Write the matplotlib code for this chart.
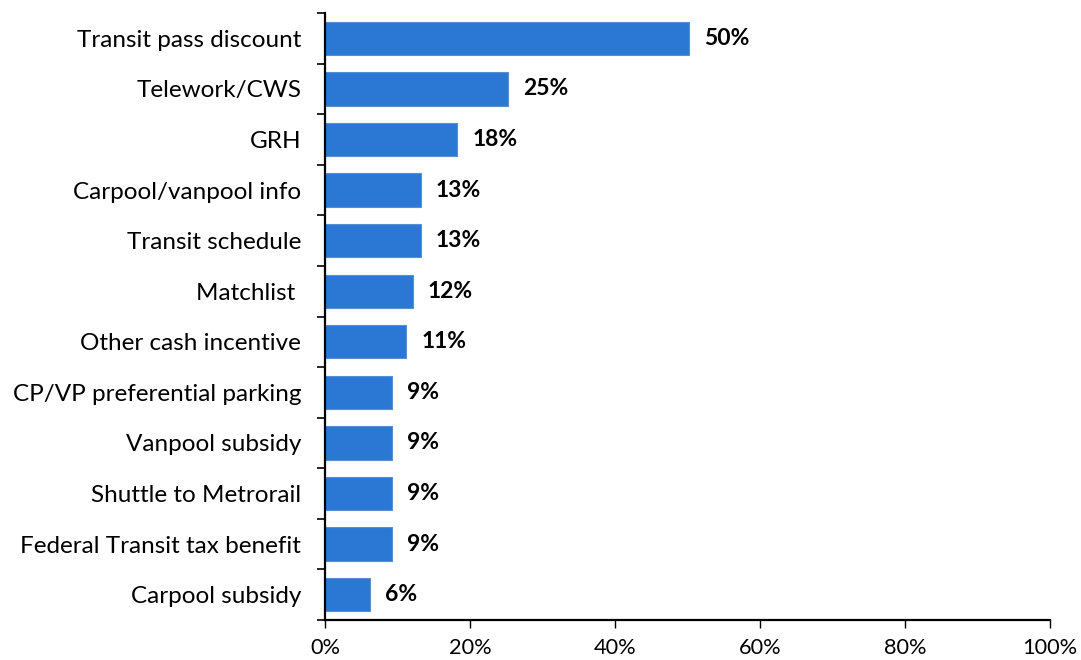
import numpy as np
import matplotlib.pyplot as plt
import matplotlib.ticker as mticker

plt.rcParams['font.family'] = ['Lato', 'DejaVu Sans']

# dados
categories = ['Transit pass discount', 'Telework/CWS', 'GRH', 'Carpool/vanpool info',
              'Transit schedule', 'Matchlist ', 'Other cash incentive',
              'CP/VP preferential parking', 'Vanpool subsidy', 'Shuttle to Metrorail',
              'Federal Transit tax benefit', 'Carpool subsidy']
values = [50.2, 25.2, 18.2, 13.2, 13.2, 12.1, 11.2, 9.2, 9.2, 9.2, 9.2, 6.2]
labels = ['50%', '25%', '18%', '13%', '13%', '12%', '11%', '9%', '9%', '9%', '9%', '6%']
xticks = [0, 20, 40, 60, 80, 100]

fig = plt.figure(figsize=(10.81, 6.6), dpi=100)
ax = fig.add_axes([0.3006, 0.0606, 0.6707, 0.9197])

n = len(categories)
y = np.arange(n)
ax.barh(y, values, height=0.66, color='#2B78D4', edgecolor='#5A8FCF', linewidth=0.8, zorder=2)

for yi, v, lab in zip(y, values, labels):
    ax.annotate(lab, xy=(v, yi), xytext=(11, 0), textcoords='offset points',
                va='center', ha='left', fontsize=16.5, fontweight='bold', color='black')

ax.set_ylim(n - 0.5, -0.5)
ax.set_xlim(0, 100)
ax.set_yticks(y)
ax.set_yticklabels(categories, fontsize=17.5)
ax.yaxis.set_minor_locator(mticker.FixedLocator(np.arange(n + 1) - 0.5))
ax.tick_params(axis='y', which='major', length=0, pad=17)
ax.tick_params(axis='y', which='minor', length=6, width=1.2, direction='out')

ax.set_xticks(xticks)
ax.xaxis.set_major_formatter(mticker.FuncFormatter(lambda v, p: f'{v:.0f}%'))
ax.tick_params(axis='x', length=6, width=1, direction='out', labelsize=15.7, pad=7)

for s in ['top', 'right']:
    ax.spines[s].set_visible(False)
ax.spines['left'].set_linewidth(1.6)
ax.spines['bottom'].set_linewidth(1.6)

plt.savefig('out.png', dpi=100)
plt.close()
